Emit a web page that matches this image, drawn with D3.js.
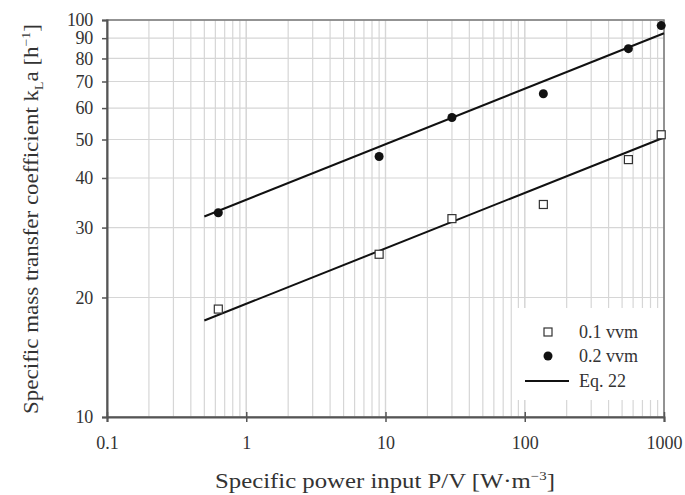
<!DOCTYPE html>
<html><head><meta charset="utf-8">
<script src="https://cdnjs.cloudflare.com/ajax/libs/d3/7.8.5/d3.min.js"></script>
<style>
html,body{margin:0;padding:0;background:#fff;}
svg{display:block;font-family:"Liberation Serif","DejaVu Serif",serif;}
</style></head><body>
<svg id="chart" width="685" height="495"></svg>
<script>
// Data
const powerInput = [0.63, 9.0, 30, 136, 555, 955];          // P/V [W·m^-3]
const kla01 = [18.7, 25.7, 31.6, 34.3, 44.5, 51.4];          // 0.1 vvm
const kla02 = [32.7, 45.3, 56.8, 65.2, 84.7, 96.8];          // 0.2 vvm
const eqX = [0.5, 1000];                                      // Eq. 22 range
const eq01 = [17.5, 50.6];                                    // Eq. 22, 0.1 vvm
const eq02 = [32.0, 92.6];                                    // Eq. 22, 0.2 vvm
const xTickLabels = ["0.1", "1", "10", "100", "1000"];
const yTickValues = [10, 20, 30, 40, 50, 60, 70, 80, 90, 100];
const legendLabels = ["0.1 vvm", "0.2 vvm", "Eq. 22"];

const svg = d3.select("#chart");
const m = {left:107, right:664, top:20, bottom:417};
const x = d3.scaleLog().domain([0.1, 1000]).range([m.left, m.right]);
const y = d3.scaleLog().domain([10, 100]).range([m.bottom, m.top]);

// grid
const xGrid = [];
[0.1,1,10,100].forEach(d => { for (let k=1;k<=10;k++) xGrid.push(d*k); });
const g = svg.append("g");
g.selectAll("line.vg").data(xGrid).enter().append("line")
  .attr("x1", d=>x(d)).attr("x2", d=>x(d)).attr("y1", m.top).attr("y2", m.bottom)
  .attr("stroke", "#d6d6d6").attr("stroke-width", 1.2);
g.selectAll("line.hg").data(yTickValues).enter().append("line")
  .attr("x1", m.left).attr("x2", m.right).attr("y1", d=>y(d)).attr("y2", d=>y(d))
  .attr("stroke", "#d6d6d6").attr("stroke-width", 1.2);

// legend background
const lg = svg.append("g");
lg.append("rect").attr("x", 513).attr("y", 308).attr("width", 150).attr("height", 92).attr("fill", "#fff");

// frame
svg.append("rect").attr("x", m.left).attr("y", m.top).attr("width", m.right-m.left).attr("height", m.bottom-m.top)
  .attr("fill", "none").attr("stroke", "#777").attr("stroke-width", 1.5);

// axes
const xAxis = d3.axisBottom(x).tickValues([0.1,1,10,100,1000]).tickFormat((d,i)=>xTickLabels[i]).tickSize(5).tickPadding(14);
const gx = svg.append("g").attr("transform", `translate(0,${m.bottom})`).call(xAxis);
gx.select(".domain").attr("stroke", "#555").attr("stroke-width", 2);
gx.selectAll(".tick line").attr("stroke", "#555").attr("stroke-width", 1.5).attr("y1", -5);
gx.selectAll("text").attr("font-size", 18).attr("fill", "#333").attr("font-family", "Liberation Serif");

const yAxis = d3.axisLeft(y).tickValues(yTickValues).tickFormat(d3.format("d")).tickSize(5).tickPadding(9);
const gy = svg.append("g").attr("transform", `translate(${m.left},0)`).call(yAxis);
gy.select(".domain").attr("stroke", "#555").attr("stroke-width", 2);
gy.selectAll(".tick line").attr("stroke", "#555").attr("stroke-width", 1.5);
gy.selectAll("text").attr("font-size", 18).attr("fill", "#333").attr("font-family", "Liberation Serif").attr("letter-spacing", -0.3);

// fitted lines
const line = d3.line().x(d=>x(d[0])).y(d=>y(d[1]));
[eq01, eq02].forEach(ys => {
  svg.append("path").datum(eqX.map((v,i)=>[v, ys[i]])).attr("d", line)
    .attr("fill","none").attr("stroke","#111").attr("stroke-width",2);
});

// markers
const pts01 = powerInput.map((v,i)=>[v, kla01[i]]);
const pts02 = powerInput.map((v,i)=>[v, kla02[i]]);
svg.selectAll("rect.sq").data(pts01).enter().append("rect")
  .attr("x", d=>x(d[0])-4).attr("y", d=>y(d[1])-4).attr("width", 8).attr("height", 8)
  .attr("fill", "#fff").attr("stroke", "#333").attr("stroke-width", 1.2);
svg.selectAll("circle.pt").data(pts02).enter().append("circle")
  .attr("cx", d=>x(d[0])).attr("cy", d=>y(d[1])).attr("r", 4.5).attr("fill", "#111");

// legend
const lx = 548, ly = [332, 356, 381];
lg.append("rect").attr("x", lx-4).attr("y", ly[0]-4).attr("width", 8).attr("height", 8)
  .attr("fill", "#fff").attr("stroke", "#333").attr("stroke-width", 1.2);
lg.append("circle").attr("cx", lx).attr("cy", ly[1]).attr("r", 4.5).attr("fill", "#111");
lg.append("line").attr("x1", 525).attr("x2", 569).attr("y1", ly[2]).attr("y2", ly[2]).attr("stroke", "#111").attr("stroke-width", 2);
lg.selectAll("text").data(legendLabels).enter().append("text")
  .attr("x", 579).attr("y", (d,i)=>ly[i]+6).attr("font-size", 18).attr("fill", "#333").text(d=>d);

// axis titles (stretched horizontally to the reference's extents)
function fitText(sel, target, base) {
  const w = sel.node().getBBox().width;
  sel.attr("transform", base + ` scale(${target / w},1)`);
}
const xt = svg.append("text").attr("text-anchor", "middle")
  .attr("font-size", 20).attr("fill", "#333");
xt.append("tspan").text("Specific power input P/V [W\u00b7m");
xt.append("tspan").attr("dy", -8).attr("font-size", 12).text("\u22123");
xt.append("tspan").attr("dy", 8).text("]");
fitText(xt, 340, "translate(385,488)");

const yt = svg.append("text").attr("text-anchor", "middle")
  .attr("font-size", 20).attr("fill", "#333");
yt.append("tspan").text("Specific mass transfer coefficient k");
yt.append("tspan").attr("dy", 5).attr("font-size", 12).text("L");
yt.append("tspan").attr("dy", -5).text("a [h");
yt.append("tspan").attr("dy", -8).attr("font-size", 12).text("\u22121");
yt.append("tspan").attr("dy", 8).text("]");
fitText(yt, 390, "translate(38,219) rotate(-90)");
</script>
</body></html>
